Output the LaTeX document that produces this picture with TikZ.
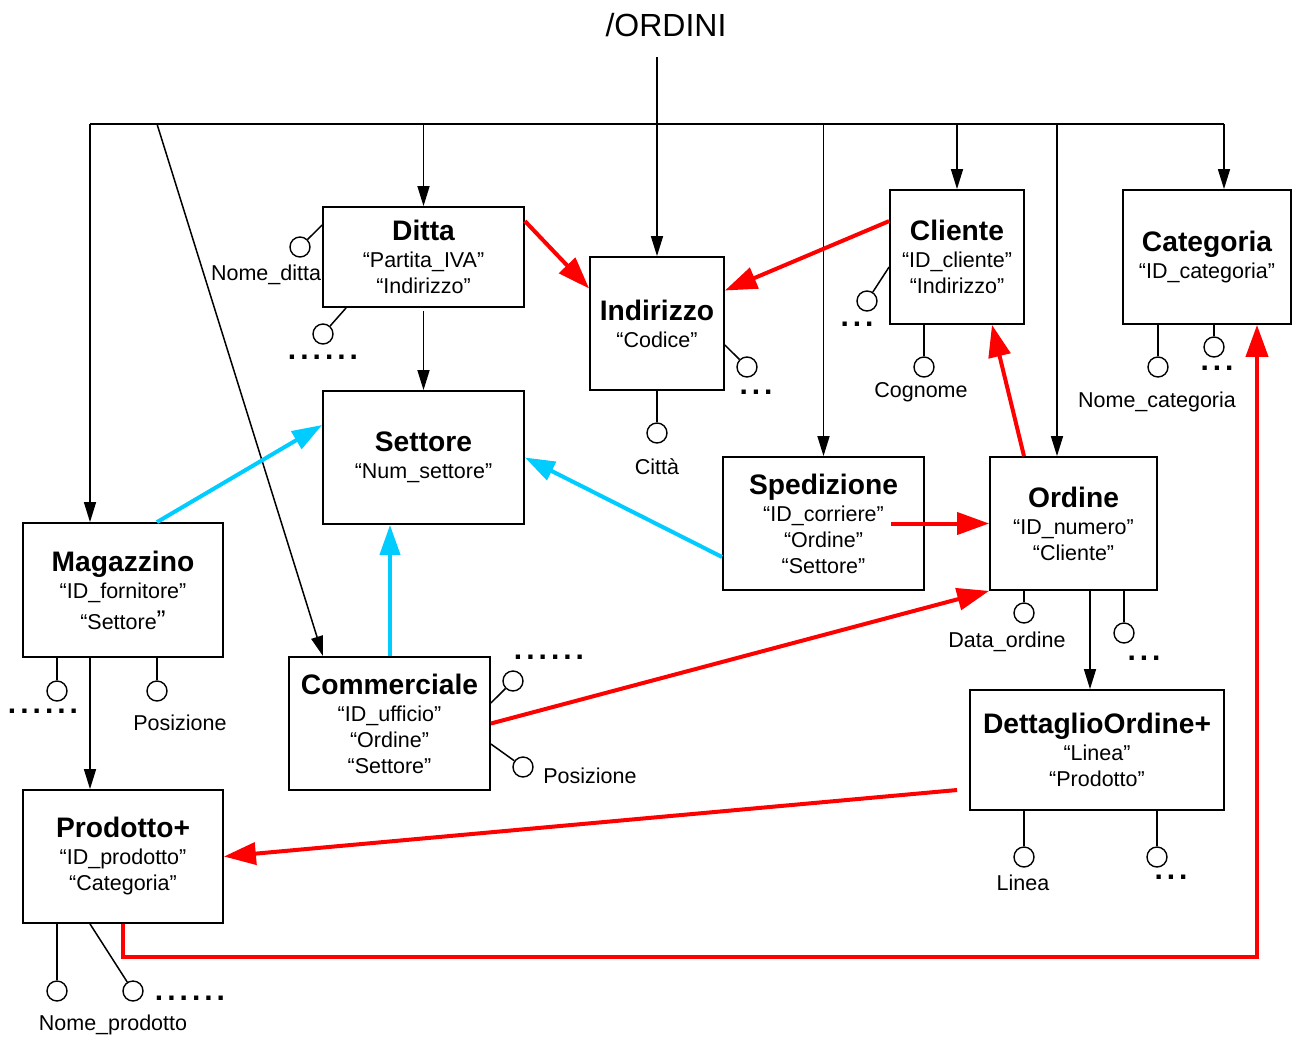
\documentclass[tikz,border=0pt]{standalone}
\usepackage{fontspec}
\setmainfont{Liberation Sans}
\usetikzlibrary{arrows.meta}
\definecolor{linkred}{RGB}{255,0,0}
\definecolor{linkcyan}{RGB}{0,204,255}
% entity title, attribute dots
\newcommand\etitle[1]{{\fontsize{28.2}{30}\selectfont\bfseries #1}}
\newcommand\dotgap{\kern4pt}
\newcommand\dotsthree{.\dotgap.\dotgap.}
\newcommand\dotssix{.\dotgap.\dotgap.\dotgap.\dotgap.\dotgap.}
\begin{document}
\begin{tikzpicture}[x=1pt,y=-1pt,
  entity/.style={draw, line width=1.8pt, inner sep=0pt, align=center,
    font=\fontsize{21.5}{26}\selectfont},
  attr/.style={circle, draw, line width=1.4pt, minimum size=20pt, inner sep=0pt},
  lbl/.style={anchor=base, inner sep=0pt, font=\fontsize{21.5}{24}\selectfont},
  dotsn/.style={inner sep=0pt, font=\fontsize{30}{30}\selectfont\bfseries},
  conn/.style={line width=1.5pt},
  blackarr/.style={conn, -{Triangle[length=20pt,width=12pt]}},
  redarr/.style={line width=4pt, draw=linkred, -{Triangle[length=32pt,width=22pt]}},
  cyanarr/.style={line width=4pt, draw=linkcyan, fill=linkcyan, -{Triangle[length=30pt,width=20pt]}},
]
\path[use as bounding box] (0,0) rectangle (1294,1037);

% root
\node[inner sep=0pt, font=\fontsize{32}{32}\selectfont] (ordini) at (666,25) {/ORDINI};

% entities
\node[entity, minimum width=201pt, minimum height=100pt] (ditta) at (423.5,257)
  {\etitle{Ditta}\\[1pt]“Partita\_IVA”\\“Indirizzo”};
\node[entity, minimum width=134pt, minimum height=133pt] (indir) at (657,323.5)
  {\etitle{Indirizzo}\\[1pt]“Codice”};
\node[entity, minimum width=134pt, minimum height=134pt] (cliente) at (957,257)
  {\etitle{Cliente}\\[1pt]“ID\_cliente”\\“Indirizzo”};
\node[entity, minimum width=168pt, minimum height=134pt] (categ) at (1207,257)
  {\etitle{Categoria}\\[1pt]“ID\_categoria”};
\node[entity, minimum width=201pt, minimum height=133pt] (settore) at (423.5,457.5)
  {\etitle{Settore}\\[1pt]“Num\_settore”};
\node[entity, minimum width=201pt, minimum height=133pt] (sped) at (823.5,523.5)
  {\etitle{Spedizione}\\[1pt]“ID\_corriere”\\“Ordine”\\“Settore”};
\node[entity, minimum width=167pt, minimum height=133pt] (ordine) at (1073.5,523.5)
  {\etitle{Ordine}\\[1pt]“ID\_numero”\\“Cliente”};
\node[entity, minimum width=200pt, minimum height=134pt] (magaz) at (123,590)
  {\etitle{Magazzino}\\[1pt]“ID\_fornitore”\\[5pt]“Settore{\fontsize{27}{27}\selectfont ”}};
\node[entity, minimum width=201pt, minimum height=133pt] (comm) at (389.5,723.5)
  {\etitle{Commerciale}\\[1pt]“ID\_ufficio”\\“Ordine”\\“Settore”};
\node[entity, minimum width=254pt, minimum height=120pt] (dett) at (1097,750)
  {\etitle{DettaglioOrdine+}\\[1pt]“Linea”\\“Prodotto”};
\node[entity, minimum width=200pt, minimum height=133pt] (prod) at (123,856.5)
  {\etitle{Prodotto+}\\[1pt]“ID\_prodotto”\\“Categoria”};

% hierarchy from the root
\coordinate (trunk) at (657,57);
\coordinate (busL) at (90,124);
\coordinate (busR) at (1224,124);
\coordinate (busO) at (1057,124);
\coordinate (busC) at (157,124);
\draw[line width=2pt] (busL) -- (busR);
\draw[blackarr] (trunk) -- (indir.north);
\draw[blackarr] (busL) -- (busL |- magaz.north);
\draw[blackarr] (ditta.north |- busL) -- (ditta.north);
\draw[blackarr] (sped.north |- busL) -- (sped.north);
\draw[blackarr] (cliente.north |- busL) -- (cliente.north);
\draw[blackarr] (busO) -- (busO |- ordine.north);
\draw[blackarr] (busR) -- (busR |- categ.north);
\draw[blackarr] (busC) -- ([xshift=-66.5pt]comm.north);

\draw[blackarr] ([yshift=-3pt]ditta.south) -- (settore.north);
\draw[blackarr] (magaz.south -| busL) -- (prod.north -| busL);
\draw[blackarr] ([xshift=16.5pt]ordine.south) -- ([xshift=-7pt]dett.north);

% references between entities
\draw[redarr] ([yshift=-15pt]ditta.north east) -- ([yshift=35pt]indir.west);
\draw[redarr] ([yshift=-32pt]cliente.north west) -- ([yshift=33pt]indir.east);
\draw[redarr] ([xshift=-49.5pt]ordine.north) -- ([xshift=35pt]cliente.south);
\draw[redarr] ([xshift=-34pt]sped.east) -- (ordine.west);
\draw[redarr] (comm.east) -- (ordine.south west);
\draw[redarr] ([xshift=-12pt,yshift=-40pt]dett.west) -- (prod.east);
\coordinate (rc) at (1257,957);
\draw[redarr] (prod.south) |- (rc) -- (rc |- categ.south);

\draw[cyanarr] ([xshift=34pt]magaz.north) -- ([yshift=32.5pt]settore.west);
\draw[cyanarr] ([yshift=-33.5pt]sped.west) -- (settore.east);
\draw[cyanarr] ([xshift=0.5pt]comm.north) -- ([xshift=-33.5pt]settore.south);

% attributes
\node[attr] (a1) at (300,247) {};
\draw[conn] ([yshift=32pt]ditta.west) -- (a1);
\node[lbl] (l1) at (266,280) {Nome\_ditta};
\node[attr] (a2) at (323,334) {};
\draw[conn] ([xshift=24pt]ditta.south west) -- (a2);
\node[dotsn] (d2) at (323,357) {\dotssix};

\node[attr] (a3) at (747,367) {};
\draw[conn] ([yshift=-21.5pt]indir.east) -- (a3);
\node[dotsn] (d3) at (756,392) {\dotsthree};
\node[attr] (a4) at (657,433) {};
\draw[conn] (indir.south) -- (a4);
\node[lbl] (l4) at (657,474) {Città};

\node[attr] (a5) at (867,301) {};
\draw[conn] ([yshift=-10pt]cliente.west) -- (a5);
\node[dotsn] (d5) at (857,324) {\dotsthree};
\node[attr] (a6) at (924,367) {};
\draw[conn] (a6 |- cliente.south) -- (a6);
\node[lbl] (l6) at (921,397) {Cognome};

\node[attr] (a7) at (1158,367) {};
\draw[conn] (a7 |- categ.south) -- (a7);
\node[lbl] (l7) at (1157,407) {Nome\_categoria};
\node[attr] (a8) at (1214,347) {};
\draw[conn] (a8 |- categ.south) -- (a8);
\node[dotsn] (d8) at (1217,368) {\dotsthree};

\node[attr] (a9) at (57,691) {};
\draw[conn] (a9 |- magaz.south) -- (a9);
\node[dotsn] (d9) at (43,711) {\dotssix};
\node[attr] (a10) at (157,691) {};
\draw[conn] (a10 |- magaz.south) -- (a10);
\node[lbl] (l10) at (180,730) {Posizione};

\node[attr] (a11) at (513,681) {};
\draw[conn] ([yshift=20.5pt]comm.east) -- (a11);
\node[dotsn] (d11) at (549,657) {\dotssix};
\node[attr] (a12) at (523,767) {};
\draw[conn] ([yshift=-20.5pt]comm.east) -- (a12);
\node[lbl] (l12) at (590,783) {Posizione};

\node[attr] (a13) at (1024,613) {};
\draw[conn] (a13 |- ordine.south) -- (a13);
\node[lbl] (l13) at (1007,647) {Data\_ordine};
\node[attr] (a14) at (1124,633) {};
\draw[conn] (a14 |- ordine.south) -- (a14);
\node[dotsn] (d14) at (1144,658) {\dotsthree};

\node[attr] (a15) at (1024,857) {};
\draw[conn] (a15 |- dett.south) -- (a15);
\node[lbl] (l15) at (1023,890) {Linea};
\node[attr] (a16) at (1157,857) {};
\draw[conn] (a16 |- dett.south) -- (a16);
\node[dotsn] (d16) at (1171,877) {\dotsthree};

\node[attr] (a17) at (57,991) {};
\draw[conn] (a17 |- prod.south) -- (a17);
\node[lbl] (l17) at (113,1030) {Nome\_prodotto};
\node[attr] (a18) at (133,991) {};
\draw[conn] ([xshift=-33pt]prod.south) -- (a18);
\node[dotsn] (d18) at (190,998) {\dotssix};
\end{tikzpicture}
\end{document}
